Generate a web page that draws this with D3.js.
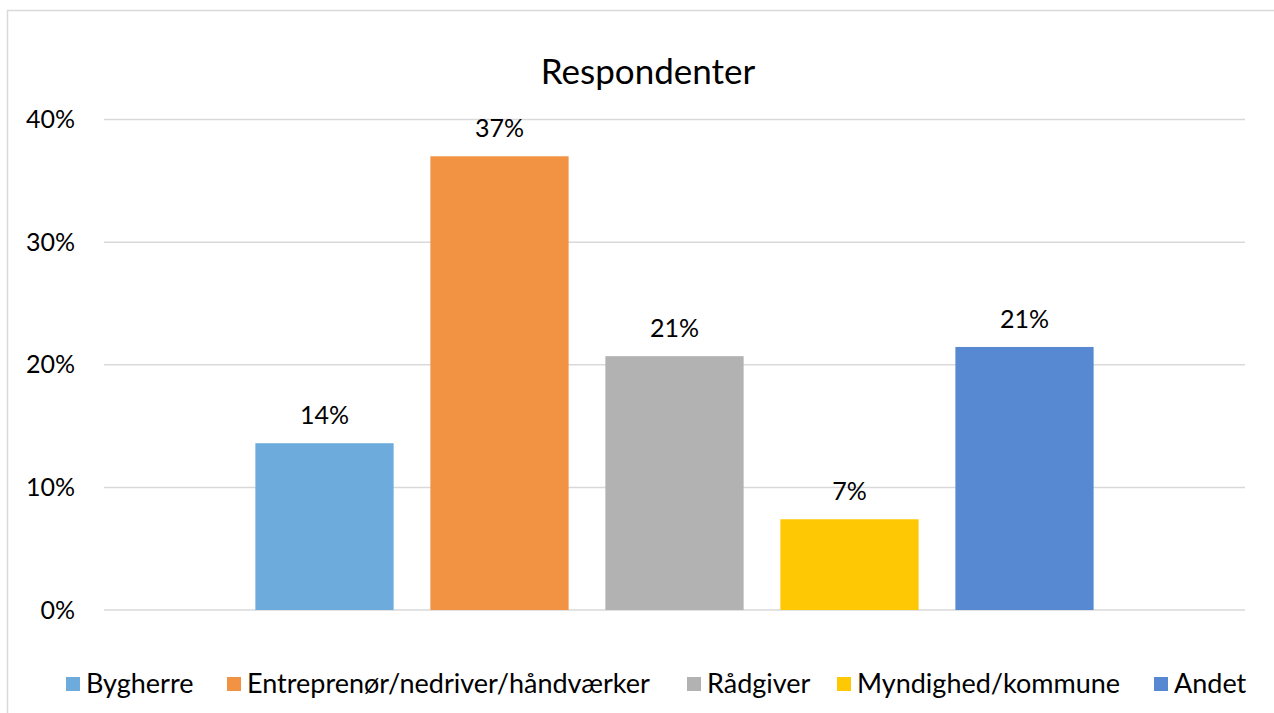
<!DOCTYPE html>
<html>
<head>
<meta charset="utf-8">
<title>Respondenter</title>
<script src="https://d3js.org/d3.v7.min.js"></script>
<style>
body { margin: 0; background: white; font-family: Lato, "Open Sans", sans-serif; }
</style>
</head>
<body>
<script>
// data
var series = ["Bygherre", "Entreprenør/nedriver/håndværker", "Rådgiver", "Myndighed/kommune", "Andet"];
var values = [0.136, 0.37, 0.207, 0.074, 0.2145];
var colors = ["#6CABDC", "#F29343", "#B2B2B2", "#FFC805", "#5689D1"];
var yTicks = [0, 0.1, 0.2, 0.3, 0.4];

var width = 1274, height = 713;
var svg = d3.select("body").append("svg")
  .attr("width", width).attr("height", height);

// chart border
svg.append("rect")
  .attr("x", 7.5).attr("y", 10.5)
  .attr("width", width + 10).attr("height", height + 10)
  .attr("fill", "white").attr("stroke", "#d9d9d9").attr("stroke-width", 1.5);

var plotL = 104, plotR = 1245, plotT = 119.5, plotB = 610;

var y = d3.scaleLinear().domain([0, 0.4]).range([plotB, plotT]);
var x0 = d3.scaleBand().domain(["all"]).range([plotL, plotR]).paddingInner(0).paddingOuter(0.152);
var x1 = d3.scaleBand().domain(series).range([0, x0.bandwidth()]).paddingInner(0.21).paddingOuter(0.105);

// gridlines
svg.append("g").selectAll("line")
  .data(yTicks).enter().append("line")
  .attr("x1", plotL).attr("x2", plotR)
  .attr("y1", function(d) { return y(d); })
  .attr("y2", function(d) { return y(d); })
  .attr("stroke", "#d9d9d9").attr("stroke-width", 1.5);

// y axis labels
var yAxis = d3.axisLeft(y).tickValues(yTicks).tickFormat(d3.format(".0%")).tickSize(0).tickPadding(0);
var ga = svg.append("g").attr("transform", "translate(75,0)").call(yAxis);
ga.select(".domain").remove();
ga.selectAll("text").attr("font-size", 25).attr("font-family", "Lato, sans-serif").attr("fill", "#000");

// bars
var g = svg.append("g").attr("transform", "translate(" + x0("all") + ",0)");
g.selectAll("rect")
  .data(series).enter().append("rect")
  .attr("x", function(d) { return x1(d); })
  .attr("width", x1.bandwidth())
  .attr("y", function(d, i) { return y(values[i]); })
  .attr("height", function(d, i) { return plotB - y(values[i]); })
  .attr("fill", function(d, i) { return colors[i]; });

// data labels
g.selectAll("text.lbl")
  .data(series).enter().append("text")
  .attr("class", "lbl")
  .attr("x", function(d) { return x1(d) + x1.bandwidth() / 2; })
  .attr("y", function(d, i) { return y(values[i]) - 19; })
  .attr("text-anchor", "middle")
  .attr("font-size", 25)
  .text(function(d, i) { return d3.format(".0%")(values[i]); });

// title
svg.append("text")
  .attr("x", 648).attr("y", 84)
  .attr("text-anchor", "middle")
  .attr("font-size", 35)
  .text("Respondenter");

// legend
var legX = [66, 227, 687, 837, 1154];
var leg = svg.append("g").selectAll("g")
  .data(series).enter().append("g")
  .attr("transform", function(d, i) { return "translate(" + legX[i] + ",677)"; });
leg.append("rect").attr("width", 14).attr("height", 14)
  .attr("fill", function(d, i) { return colors[i]; });
leg.append("text").attr("x", 20).attr("y", 16)
  .attr("font-size", 27)
  .text(function(d) { return d; });
</script>
</body>
</html>
